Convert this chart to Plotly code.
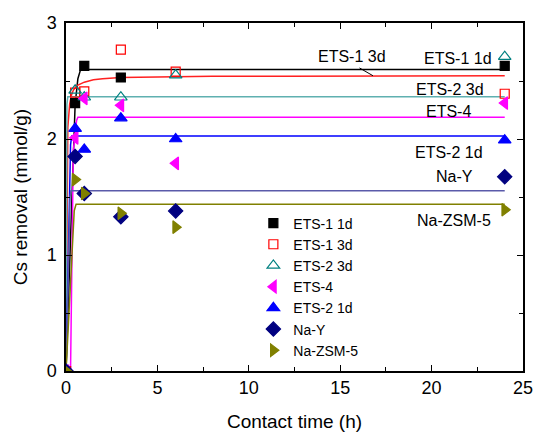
import plotly.graph_objects as go

FONT = "Liberation Sans, Arial, sans-serif"

# Measured data
t = [0, 0.5, 1, 3, 6, 24]
ets1_1d_t = [0, 0.5, 1, 3, 24]
ets1_1d = [0, 2.31, 2.63, 2.53, 2.63]
ets1_3d = [0, 2.40, 2.41, 2.77, 2.58, 2.39]
ets2_3d = [0, 2.42, 2.36, 2.36, 2.55, 2.71]
ets4 = [0, 2.01, 2.35, 2.29, 1.79, 2.31]
ets2_1d = [0, 2.09, 1.91, 2.18, 2.00, 1.99]
nay = [0, 1.85, 1.53, 1.33, 1.38, 1.675]
nazsm5 = [0, 1.65, 1.53, 1.36, 1.24, 1.39]

# Fitted curves
fit_ets1_1d_x = [0, 0.5, 0.65, 0.8, 24]
fit_ets1_1d_y = [0, 2.30, 2.52, 2.60, 2.60]
fit_ets1_3d_x = [0, 0.05, 0.1, 0.2, 0.3, 0.4, 0.6, 1.0, 1.5, 2, 3, 5, 8, 12, 24]
fit_ets1_3d_y = [0, 1.6, 2.1, 2.3, 2.38, 2.42, 2.46, 2.49, 2.51, 2.52, 2.53, 2.535, 2.54, 2.54, 2.545]
fit_ets2_3d_x = [0, 0.05, 0.1, 24]
fit_ets2_3d_y = [0, 2.30, 2.365, 2.365]
fit_ets4_x = [0, 0.25, 0.4, 0.58, 0.65, 24]
fit_ets4_y = [0, 0.02, 1.9, 2.16, 2.187, 2.187]
fit_ets2_1d_x = [0, 0.25, 0.31, 24]
fit_ets2_1d_y = [0, 1.95, 2.025, 2.025]
fit_nay_x = [0, 0.22, 0.27, 24]
fit_nay_y = [0, 1.50, 1.554, 1.554]
fit_nazsm5_x = [0, 0.45, 0.55, 24]
fit_nazsm5_y = [0, 1.38, 1.437, 1.437]

series = [
    ("ETS-1 1d", ets1_1d_t, ets1_1d, "square", "black", 9),
    ("ETS-1 3d", t, ets1_3d, "square-open", "red", 9),
    ("ETS-2 3d", t, ets2_3d, "triangle-up-open", "#008080", 11),
    ("ETS-4", t, ets4, "triangle-left", "#ff00ff", 11),
    ("ETS-2 1d", t, ets2_1d, "triangle-up", "#0000ff", 11),
    ("Na-Y", t, nay, "diamond", "#000080", 11),
    ("Na-ZSM-5", t, nazsm5, "triangle-right", "#808000", 11),
]

fits = [
    (fit_ets1_1d_x, fit_ets1_1d_y, "black"),
    (fit_ets1_3d_x, fit_ets1_3d_y, "#ff2020"),
    (fit_ets2_3d_x, fit_ets2_3d_y, "#5fb0b0"),
    (fit_ets4_x, fit_ets4_y, "#ff00ff"),
    (fit_ets2_1d_x, fit_ets2_1d_y, "#0000ff"),
    (fit_nay_x, fit_nay_y, "#5a5aaa"),
    (fit_nazsm5_x, fit_nazsm5_y, "#808000"),
]

fig = go.Figure()
for fx, fy, c in fits:
    fig.add_trace(go.Scatter(x=fx, y=fy, mode="lines", line=dict(color=c, width=1.5),
                             showlegend=False, hoverinfo="skip"))
for name, x, y, sym, col, sz in series:
    fig.add_trace(go.Scatter(x=x, y=y, mode="markers", name=name,
                             marker=dict(symbol=sym, color=col, size=sz,
                                         line=dict(color=col, width=1.2))))

labels = [
    ("ETS-1 3d", 352, 2.71),
    ("ETS-1 1d", 458, 2.69),
    ("ETS-2 3d", 450, 2.43),
    ("ETS-4", 448, 2.24),
    ("ETS-2 1d", 449, 1.88),
    ("Na-Y", 454, 1.68),
    ("Na-ZSM-5", 454, 1.30),
]
for txt, px, yv in labels:
    xv = (px - 66) / 18.28
    fig.add_annotation(x=xv, y=yv, text=txt, showarrow=False,
                       font=dict(family=FONT, size=16, color="black"))

# pointer line from ETS-1 3d label to the red fit line
fig.add_annotation(x=(373 - 66) / 18.28, y=2.545, ax=(358 - 66) / 18.28, ay=2.62,
                   axref="x", ayref="y", xref="x", yref="y", text="",
                   showarrow=True, arrowhead=0, arrowwidth=1, arrowcolor="black")

axis_common = dict(
    showline=True, linecolor="black", linewidth=1.5, mirror="ticks",
    ticks="inside", ticklen=6, tickwidth=1, tickcolor="black",
    showgrid=False, zeroline=False, automargin=False,
    tickfont=dict(family=FONT, size=18, color="black"),
)

fig.update_xaxes(range=[0, 25], dtick=5, title=dict(text="Contact time (h)", font=dict(family=FONT, size=19), standoff=17),
                 minor=dict(ticks="inside", ticklen=4, dtick=2.5, tickcolor="black"), **axis_common)
fig.update_yaxes(range=[0, 3], dtick=1, ticklabelstandoff=4,
                 title=dict(text="Cs removal (mmol/g)", font=dict(family=FONT, size=19), standoff=14),
                 minor=dict(ticks="inside", ticklen=4, dtick=0.5, tickcolor="black"), **axis_common)

fig.update_layout(
    width=535, height=432,
    margin=dict(l=66, r=12, t=23, b=61),
    plot_bgcolor="white", paper_bgcolor="white",
    font=dict(family=FONT, size=16, color="black"),
    legend=dict(x=0.41, y=0.47, xanchor="left", yanchor="top",
                bgcolor="rgba(0,0,0,0)", font=dict(family=FONT, size=14),
                tracegroupgap=0, itemwidth=30),
)

fig.write_html("out.html")
